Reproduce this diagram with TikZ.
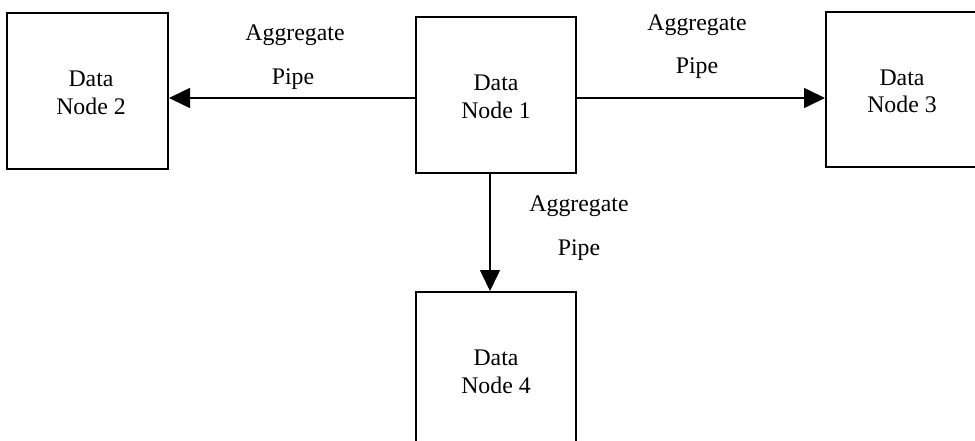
\documentclass[tikz,border=0pt]{standalone}
\usepackage{fontspec}
\setmainfont{Liberation Serif}
\usetikzlibrary{arrows.meta}
\newcommand\dtext[2][0pt]{\raisebox{-4pt}[\height][\depth]{\hspace*{#1}\begin{tabular}{@{}c@{}}#2\end{tabular}}}
\begin{document}
\begin{tikzpicture}[x=1pt,y=-1pt,
  databox/.style={draw=black,line width=2pt,minimum width=160pt,minimum height=156pt,
    inner sep=0pt,font=\fontsize{23.8}{27.5}\selectfont},
  pipe/.style={line width=1.6pt,-{Triangle[length=21pt,width=20pt]}},
  lbl/.style={inner sep=0pt,font=\fontsize{23.8}{27.5}\selectfont}]
\useasboundingbox (0,0) rectangle (975,441);
\clip (0,0) rectangle (975,441);
\node[databox,minimum width=161pt] (n2) at (87.5,91) {\dtext[7pt]{Data\\Node 2}};
\node[databox] (n1) at (496,95) {\dtext{Data\\Node 1}};
\node[databox,minimum width=152pt,minimum height=155pt] (n3) at (902,89.5) {\dtext{Data\\Node 3}};
\node[databox] (n4) at (496,370) {\dtext{Data\\Node 4}};
\draw[pipe] ([yshift=-3pt]n1.west) -- ([yshift=-7pt]n2.east);
\draw[pipe] ([yshift=-3pt]n1.east) -- ([yshift=-8.5pt]n3.west);
\draw[pipe] ([xshift=-6pt]n1.south) -- ([xshift=-6pt]n4.north);
\node[lbl] (a2) at (295,35) {Aggregate};
\node[lbl] (p2) at (293,79) {Pipe};
\node[lbl] (a3) at (697,25) {Aggregate};
\node[lbl] (p3) at (697,68) {Pipe};
\node[lbl] (a4) at (579,206) {Aggregate};
\node[lbl] (p4) at (579,250) {Pipe};
\end{tikzpicture}
\end{document}
